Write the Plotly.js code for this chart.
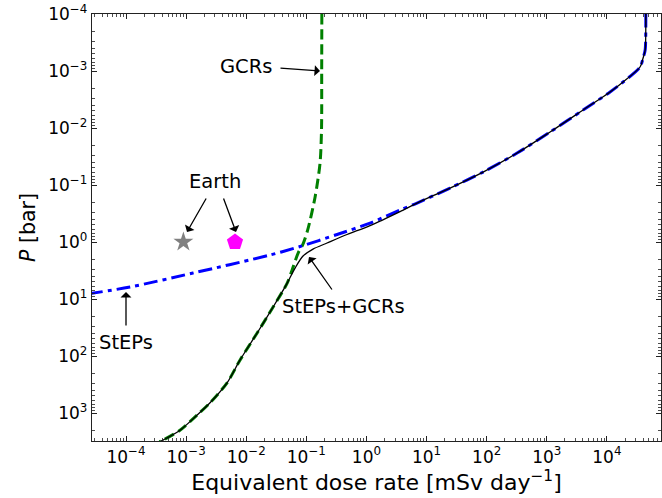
<!DOCTYPE html>
<html>
<head>
<meta charset="utf-8">
<script src="https://cdn.plot.ly/plotly-3.0.1.min.js"></script>
<style>html,body{margin:0;padding:0;background:#fff;}#chart{width:662px;height:498px;}</style>
</head>
<body>
<div id="chart"></div>
<script>
// GCRs (green dashed): equivalent dose rate [mSv/day] vs pressure [bar]
const gcrDose = [0.181, 0.180, 0.179, 0.169, 0.140, 0.105, 0.0865, 0.073, 0.058, 0.048, 0.028, 0.0151, 0.0079, 0.0048, 0.0025, 0.0015, 0.00079, 0.00042, 0.00036];
const gcrP    = [1e-4, 1e-3, 1e-2, 0.041, 0.16, 0.62, 1.13, 1.56, 3.09, 5.25, 13.8, 39.8, 117, 295, 660, 1100, 2000, 2950, 3200];

// StEPs (blue dash-dot)
const stepsDose = [2.4e-5, 1.17e-4, 1.30e-3, 0.0249, 0.0785, 0.324, 1.148, 3.62, 6.95, 24.6, 87.1, 321, 1135, 4018, 11300, 18600, 35600, 40000, 43300, 44400, 44400];
const stepsP    = [8.07, 6.15, 3.50, 1.69, 1.20, 0.738, 0.465, 0.275, 0.207, 0.113, 0.0592, 0.0275, 0.01175, 0.00483, 0.00233, 0.00156, 0.000851, 0.000592, 0.000428, 0.000127, 1e-4];

// StEPs+GCRs (black solid)
const totalDose = [0.00036, 0.00042, 0.00079, 0.0015, 0.0025, 0.0048, 0.0079, 0.0151, 0.028, 0.048, 0.0649, 0.0881, 0.129, 0.221, 0.475, 1.148, 3.62, 6.95, 24.6, 87.1, 321, 1135, 4018, 11300, 18600, 35600, 40000, 43300, 44400, 44400];
const totalP    = [3200, 2950, 2000, 1100, 660, 295, 117, 39.8, 13.8, 5.25, 2.86, 1.76, 1.33, 1.04, 0.738, 0.514, 0.292, 0.207, 0.113, 0.0592, 0.0275, 0.01175, 0.00483, 0.00233, 0.00156, 0.000851, 0.000592, 0.000428, 0.000127, 1e-4];

// Earth reference points
const earthStarDose = [9e-4];
const earthStarP = [1.0];
const earthPentDose = [6.5e-3];
const earthPentP = [1.0];

// Tick labels
const xTickVals = [1e-4, 1e-3, 1e-2, 1e-1, 1, 10, 100, 1000, 10000];
const xTickText = ['10<sup>−4</sup>', '10<sup>−3</sup>', '10<sup>−2</sup>', '10<sup>−1</sup>', '10<sup>0</sup>', '10<sup>1</sup>', '10<sup>2</sup>', '10<sup>3</sup>', '10<sup>4</sup>'];
const yTickVals = [1e-4, 1e-3, 1e-2, 1e-1, 1, 10, 100, 1000];
const yTickText = ['10<sup>−4</sup>', '10<sup>−3</sup>', '10<sup>−2</sup>', '10<sup>−1</sup>', '10<sup>0</sup>', '10<sup>1</sup>', '10<sup>2</sup>', '10<sup>3</sup>'];

function minorVals(lo, hi) {
  const out = [];
  for (let e = lo; e <= hi; e++) {
    for (let m = 2; m <= 9; m++) out.push(m * Math.pow(10, e));
  }
  return out;
}

const FONT = 'DejaVu Sans, Verdana, sans-serif';
const AX = '#222';

const traces = [
  {x: gcrDose, y: gcrP, mode: 'lines', line: {color: '#008000', width: 3, dash: '10px,5px', shape: 'spline', smoothing: 0.8}, hoverinfo: 'skip'},
  {x: stepsDose, y: stepsP, mode: 'lines', line: {color: '#0000ff', width: 3, dash: '14px,5px,4px,5px', shape: 'spline', smoothing: 0.8}, hoverinfo: 'skip'},
  {x: totalDose, y: totalP, mode: 'lines', line: {color: '#000000', width: 1.3, shape: 'spline', smoothing: 0.8}, hoverinfo: 'skip'},
  {x: earthStarDose, y: earthStarP, mode: 'markers', marker: {symbol: 'star', size: 15, color: '#808080'}, hoverinfo: 'skip'},
  {x: earthPentDose, y: earthPentP, mode: 'markers', marker: {symbol: 'pentagon', size: 17, color: '#ff00ff'}, hoverinfo: 'skip'}
];

// paper coords helpers from plot-area pixels (plot area: x 92..661, y 14..441)
const L = 92, R = 661, T = 14, B = 441;
const px = v => (v - L) / (R - L);
const py = v => (B - v) / (B - T);

function arrow(hx, hy, tx, ty) {
  return {xref: 'paper', yref: 'paper', x: px(hx), y: py(hy), ax: tx - hx, ay: ty - hy,
          axref: 'pixel', ayref: 'pixel', text: '', showarrow: true, arrowhead: 1,
          arrowsize: 1.4, arrowwidth: 1.3, arrowcolor: '#000', standoff: 0, startstandoff: 0};
}
function label(t, cx, cy) {
  return {xref: 'paper', yref: 'paper', x: px(cx), y: py(cy), text: t, showarrow: false,
          xanchor: 'center', yanchor: 'middle', font: {family: FONT, size: 19.5, color: '#000'}};
}

const layout = {
  width: 662, height: 498,
  margin: {l: L, r: 662 - R, t: T, b: 498 - B, pad: 0},
  paper_bgcolor: '#fff', plot_bgcolor: '#fff',
  showlegend: false,
  font: {family: FONT, color: '#000'},
  xaxis: {
    type: 'log', range: [-4.566, 4.90], autorange: false,
    tickmode: 'array', tickvals: xTickVals, ticktext: xTickText,
    ticks: 'inside', ticklen: 5, tickwidth: 1, tickcolor: AX,
    mirror: 'allticks', showline: true, linecolor: AX, linewidth: 1.2,
    showgrid: false, zeroline: false,
    tickfont: {family: FONT, size: 17, color: '#000'},
    minor: {tickmode: 'array', tickvals: minorVals(-5, 4), ticks: 'inside', ticklen: 3, tickwidth: 0.8, tickcolor: AX, showgrid: false},
    title: {text: 'Equivalent dose rate [mSv day<sup>−1</sup>]', font: {family: FONT, size: 22, color: '#000'}, standoff: 4}
  },
  yaxis: {
    type: 'log', range: [3.49, -4], autorange: false,
    tickmode: 'array', tickvals: yTickVals, ticktext: yTickText,
    ticks: 'inside', ticklen: 5, tickwidth: 1, tickcolor: AX,
    mirror: 'allticks', showline: true, linecolor: AX, linewidth: 1.2,
    showgrid: false, zeroline: false,
    tickfont: {family: FONT, size: 17, color: '#000'},
    minor: {tickmode: 'array', tickvals: minorVals(-4, 3), ticks: 'inside', ticklen: 3, tickwidth: 0.8, tickcolor: AX, showgrid: false},
    title: {text: '<i>P</i> [bar]', font: {family: FONT, size: 20.5, color: '#000'}, standoff: 7}
  },
  annotations: [
    arrow(320, 71, 279, 68), label('GCRs', 246, 66),
    arrow(187, 232, 207, 197), arrow(236, 232, 223, 197), label('Earth', 215, 181),
    arrow(309, 257, 333, 291), label('StEPs+GCRs', 343, 306),
    arrow(126, 292, 126, 327), label('StEPs', 126, 342)
  ]
};

Plotly.newPlot('chart', traces, layout, {staticPlot: true, displayModeBar: false});
</script>
</body>
</html>
